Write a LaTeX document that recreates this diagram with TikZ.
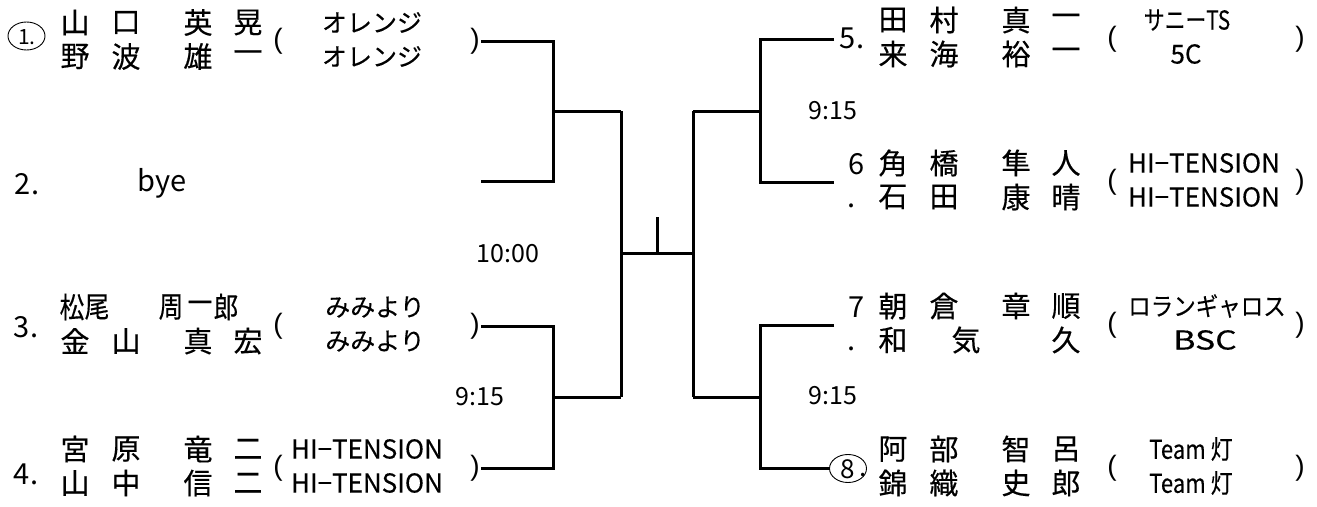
\documentclass[tikz,border=0pt]{standalone}
\usepackage{graphicx}
\usepackage{fontspec}
\setmainfont{Noto Sans CJK JP}
\newfontfamily\jpbold{Noto Sans CJK JP}[FakeBold=0.4]
\newfontfamily\jpmed{Noto Sans CJK JP}[FakeBold=0.2]
\newfontfamily\parfont{Liberation Sans}
\usetikzlibrary{shapes.geometric}
\newcommand\hsq[2]{\scalebox{#1}[1]{#2}}
\tikzset{
  br/.style={line width=3pt, line join=miter},
  nm/.style={font=\jpbold\fontsize{29}{29}\selectfont, inner sep=0pt},
  tm/.style={font=\jpmed\fontsize{25}{25}\selectfont, inner sep=0pt},
  tl/.style={font=\jpmed\fontsize{26}{26}\selectfont, inner sep=0pt},
  lab/.style={font=\fontsize{25}{25}\selectfont, inner sep=0pt},
  num/.style={font=\fontsize{29}{29}\selectfont, inner sep=0pt},
  par/.style={font=\parfont\fontsize{28}{28}\selectfont, inner sep=0pt},
  ring/.style={draw, line width=0.9pt, ellipse, minimum width=37pt, minimum height=28pt, inner sep=0pt},
}
% four-character name row: id, x of first column, y, chars
\newcommand\namerow[7]{%
  \node[nm] (#1-1) at (#2,#3) {#4};
  \node[nm] (#1-2) at (#2+51,#3) {#5};
  \node[nm] (#1-3) at (#2+123,#3) {#6};
  \node[nm] (#1-4) at (#2+173,#3) {#7};
}
\begin{document}
\begin{tikzpicture}[x=1pt,y=-1pt]
\useasboundingbox (0,0) rectangle (1317,506);

% ---------------- left side ----------------
% player 1
\node[ring] (c1) at (26.5,36) {};
\node[font=\fontsize{21}{21}\selectfont, inner sep=0pt] (n1) at (27,37) {1.};
\namerow{p1a}{75}{22.5}{山}{口}{英}{晃}
\namerow{p1b}{75}{56.5}{野}{波}{雄}{一}
\node[par] (o1) at (278,41.5) {(};
\node[tm] (t1a) at (372,22.5) {オレンジ};
\node[tm] (t1b) at (372,56.5) {オレンジ};
\node[par] (e1) at (475,41.5) {)};
% player 2
\node[num] (n2) at (27,184) {2.};
\node[num] (bye) at (162,183) {bye};
% player 3
\node[num] (n3) at (26,327) {3.};
\node[nm] (p3a-1) at (72,307) {\hsq{0.85}{松}};
\node[nm] (p3a-2) at (97,307) {\hsq{0.85}{尾}};
\node[nm] (p3a-3) at (171,307) {\hsq{0.85}{周}};
\node[nm] (p3a-4) at (200,307) {\hsq{0.85}{一}};
\node[nm] (p3a-5) at (226,307) {\hsq{0.85}{郎}};
\namerow{p3b}{75}{341}{金}{山}{真}{宏}
\node[par] (o3) at (278,326) {(};
\node[tm] (t3a) at (375,307) {みみより};
\node[tm] (t3b) at (375,341) {みみより};
\node[par] (e3) at (475,326) {)};
% player 4
\node[num] (n4) at (26,474) {4.};
\namerow{p4a}{75}{449}{宮}{原}{竜}{二}
\namerow{p4b}{75}{483}{山}{中}{信}{二}
\node[par] (o4) at (278,468) {(};
\node[tl] (t4a) at (367,449) {HI−TENSION};
\node[tl] (t4b) at (367,483) {HI−TENSION};
\node[par] (e4) at (475,468) {)};

% ---------------- right side ----------------
% player 5
\node[num] (n5) at (852,38) {5.};
\namerow{p5a}{893}{20}{田}{村}{真}{一}
\namerow{p5b}{893}{54}{来}{海}{裕}{一}
\node[par] (o5) at (1112,39) {(};
\node[tl] (t5a) at (1187,20) {\hsq{0.8}{サニーTS}};
\node[tl] (t5b) at (1186,54) {5C};
\node[par] (e5) at (1300,39) {)};
% player 6
\node[num] (n6) at (857,164) {6};
\node[num] (d6) at (852,206) {.};
\namerow{p6a}{893}{163}{角}{橋}{隼}{人}
\namerow{p6b}{893}{197}{石}{田}{康}{晴}
\node[par] (o6) at (1112,182) {(};
\node[tl] (t6a) at (1204,163) {HI−TENSION};
\node[tl] (t6b) at (1204,197) {HI−TENSION};
\node[par] (e6) at (1300,182) {)};
% player 7
\node[num] (n7) at (857,307) {7};
\node[num] (d7) at (852,349) {.};
\namerow{p7a}{893}{306}{朝}{倉}{章}{順}
\node[nm] (p7b-1) at (893,340) {和};
\node[nm] (p7b-2) at (966,340) {気};
\node[nm] (p7b-3) at (1066,340) {久};
\node[par] (o7) at (1112,325) {(};
\node[tm] (t7a) at (1207,306) {\hsq{0.9}{ロランギャロス}};
\node[font=\jpbold\fontsize{26}{26}\selectfont, inner sep=0pt] (t7b) at (1205,340) {\hsq{1.3}{BSC}};
\node[par] (e7) at (1300,325) {)};
% player 8
\node[ring] (c8) at (848,468.5) {};
\node[font=\fontsize{26}{26}\selectfont, inner sep=0pt] (n8) at (847.5,469) {8};
\node[font=\fontsize{26}{26}\selectfont, inner sep=0pt] (d8) at (863,475) {.};
\namerow{p8a}{893}{449}{阿}{部}{智}{呂}
\namerow{p8b}{893}{483}{錦}{織}{史}{郎}
\node[par] (o8) at (1112,468) {(};
\node[tl] (t8a) at (1191,449) {\hsq{0.85}{Team 灯}};
\node[tl] (t8b) at (1191,483) {\hsq{0.85}{Team 灯}};
\node[par] (e8) at (1300,468) {)};

% ---------------- times ----------------
\node[lab] (tA) at (833,111) {9:15};
\node[lab] (tB) at (480,397) {9:15};
\node[lab] (tC) at (833,396) {9:15};
\node[lab] (tD) at (508,254) {10:00};

% ---------------- bracket ----------------
\coordinate (L1) at (481,41.5);
\coordinate (L2) at (481,181);
\coordinate (L3) at (481,326);
\coordinate (L4) at (481,468);
\coordinate (S1) at (553,111);
\coordinate (S2) at (553,397);
\coordinate (Q1) at (621,111);
\coordinate (Q2) at (621,397);
\coordinate (F1) at (621,253);
\coordinate (F2) at (693,253);
\coordinate (TK) at (657,217);
\coordinate (R1) at (693,111);
\coordinate (R2) at (693,397);
\coordinate (U1) at (760,111);
\coordinate (U2) at (760,397);
\coordinate (E5) at (834,39);
\coordinate (E6) at (834,182);
\coordinate (E7) at (834,325);

\draw[br] (L1) -| (S1) |- (L2);
\draw[br] (L3) -| (S2) |- (L4);
\draw[br] (S1) -- (Q1);
\draw[br] (S2) -- (Q2);
\draw[br] (Q1) -- (Q2);
\draw[br] (F1) -- (F2);
\draw[br] (TK) -- (TK |- F1);
\draw[br] (R1) -- (R2);
\draw[br] (R1) -- (U1);
\draw[br] (R2) -- (U2);
\draw[br] (E5) -| (U1) |- (E6);
\draw[br] (E7) -| (U2) |- (c8.west);
\end{tikzpicture}
\end{document}
